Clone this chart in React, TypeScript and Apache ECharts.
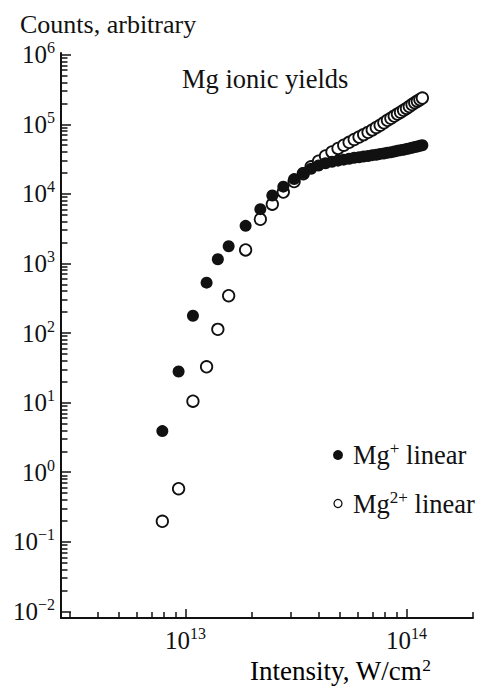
import React, { useEffect, useRef } from "react";
import * as echarts from "echarts";

// Laser intensity, W/cm^2 (shared by both series)
const intensity = [
  7.85e12, 9.3e12, 1.08e13, 1.245e13, 1.4e13, 1.567e13, 1.87e13, 2.18e13, 2.47e13, 2.77e13,
  3.1e13, 3.41e13, 3.7e13, 4.0e13, 4.3e13, 4.6e13, 4.9e13, 5.2e13, 5.5e13, 5.8e13,
  6.1e13, 6.4e13, 6.7e13, 7.0e13, 7.3e13, 7.6e13, 7.9e13, 8.2e13, 8.5e13, 8.8e13,
  9.1e13, 9.4e13, 9.7e13, 1.0e14, 1.03e14, 1.06e14, 1.09e14, 1.12e14, 1.15e14, 1.18e14,
];
// Mg+ counts
const mgPlus = [
  3.9, 28, 177, 530, 1150, 1770, 3470, 6030, 9460, 12700,
  16300, 20000, 23000, 25500, 27500, 29000, 30000, 31000, 32000, 33000,
  33500, 34500, 35000, 36000, 36500, 37500, 38000, 39000, 39500, 40500,
  41500, 42500, 43000, 44000, 45000, 46000, 47000, 48000, 49000, 50000,
];
// Mg2+ counts
const mg2Plus = [
  0.197, 0.58, 10.5, 32.7, 113, 344, 1565, 4320, 7110, 10600,
  15000, 19500, 24500, 29500, 35000, 40000, 45000, 50000, 55000, 60500,
  65500, 71000, 76500, 83000, 90000, 97000, 105000, 114000, 122000, 131000,
  140000, 149000, 159000, 169000, 180000, 192000, 204000, 215000, 226000, 238000,
];

const xMajorTicks = [1e13, 1e14];
const xMinorTicks = [
  3e12, 4e12, 5e12, 6e12, 7e12, 8e12, 9e12,
  2e13, 3e13, 4e13, 5e13, 6e13, 7e13, 8e13, 9e13, 2e14,
];
const yMajorTicks = [1e-2, 1e-1, 1e0, 1e1, 1e2, 1e3, 1e4, 1e5, 1e6];
const minorMultipliers = [2, 3, 4, 5, 6, 7, 8, 9];
const yMinorTicks: number[] = [];
yMajorTicks.slice(0, -1).forEach((d) => minorMultipliers.forEach((m) => yMinorTicks.push(+(d * m).toPrecision(3))));

const FONT = '"Liberation Serif", "Times New Roman", serif';
const INK = "#111";

const richTick = {
  b: { fontSize: 25, fontFamily: FONT, color: INK, lineHeight: 30 },
  s: { fontSize: 16, fontFamily: FONT, color: INK, lineHeight: 16, verticalAlign: "top" as const },
};
const richLegend = {
  b: { fontSize: 26.5, fontFamily: FONT, color: INK, lineHeight: 30 },
  s: { fontSize: 17, fontFamily: FONT, color: INK, lineHeight: 16, verticalAlign: "top" as const },
  g: { width: 6 },
};
const richTitle = {
  b: { fontSize: 27, fontFamily: FONT, color: INK, lineHeight: 30 },
  s: { fontSize: 17.5, fontFamily: FONT, color: INK, lineHeight: 16, verticalAlign: "top" as const },
};

const powLabel = (v: number) => {
  const e = Math.round(Math.log10(v));
  const es = e < 0 ? "\u2212" + Math.abs(e) : String(e);
  return `{b|10}{s|${es}}`;
};

export default function App() {
  const ref = useRef<HTMLDivElement>(null);
  useEffect(() => {
    if (!ref.current) return;
    const chart = echarts.init(ref.current, undefined, { renderer: "svg" });
    const xMin = 2.73e12;
    const xMax = 2.0005e14;
    const yMin = 8.04e-3;
    const yMax = 1.057e6;
    const axisLine = { show: true, onZero: false, lineStyle: { color: INK, width: 2 } };
    chart.setOption({
      animation: false,
      backgroundColor: "#fff",
      grid: { left: 61, right: 11, top: 53, bottom: 72, containLabel: false },
      xAxis: [
        {
          type: "log",
          min: xMin,
          max: xMax,
          position: "bottom",
          axisLine,
          splitLine: { show: false },
          minorTick: { show: false },
          axisTick: { show: true, inside: true, length: 9, customValues: xMajorTicks, lineStyle: { color: INK, width: 1.5 } },
          axisLabel: { show: true, customValues: xMajorTicks, margin: 7, formatter: powLabel, rich: richTick },
        },
        {
          type: "log",
          min: xMin,
          max: xMax,
          position: "bottom",
          offset: 0,
          axisLine: { show: false, onZero: false },
          splitLine: { show: false },
          axisTick: { show: true, inside: true, length: 6, customValues: xMinorTicks, lineStyle: { color: INK, width: 1.5 } },
          axisLabel: { show: false },
        },
      ],
      yAxis: [
        {
          type: "log",
          min: yMin,
          max: yMax,
          position: "left",
          axisLine,
          splitLine: { show: false },
          minorTick: { show: false },
          axisTick: { show: true, inside: true, length: 10, customValues: yMajorTicks, lineStyle: { color: INK, width: 1.5 } },
          axisLabel: { show: true, customValues: yMajorTicks, margin: 6, formatter: powLabel, rich: richTick },
        },
        {
          type: "log",
          min: yMin,
          max: yMax,
          position: "left",
          offset: 0,
          axisLine: { show: false, onZero: false },
          splitLine: { show: false },
          axisTick: { show: true, inside: true, length: 6.5, customValues: yMinorTicks, lineStyle: { color: INK, width: 1.5 } },
          axisLabel: { show: false },
        },
      ],
      legend: {
        orient: "vertical",
        left: 333,
        top: 440,
        padding: 0,
        itemWidth: 8,
        itemHeight: 8,
        itemGap: 20,
        icon: "circle",
        data: [
          { name: "Mg+ linear", icon: "circle", itemStyle: { color: INK, borderColor: INK, borderWidth: 2 } },
          { name: "Mg2+ linear", icon: "circle", itemStyle: { color: "#fff", borderColor: INK, borderWidth: 1.3 } },
        ],
        formatter: (name: string) =>
          name === "Mg+ linear" ? "{g|}{b|Mg}{s|+}{b| linear}" : "{g|}{b|Mg}{s|2+}{b| linear}",
        textStyle: { rich: richLegend },
      },
      graphic: [
        {
          type: "text",
          x: 20,
          y: 24,
          style: { text: "Counts, arbitrary", fontSize: 26, fontFamily: FONT, fill: INK, align: "left", verticalAlign: "middle" },
        },
        {
          type: "text",
          x: 182,
          y: 79,
          style: { text: "Mg ionic yields", fontSize: 26.5, fontFamily: FONT, fill: INK, align: "left", verticalAlign: "middle" },
        },
        {
          type: "text",
          x: 250,
          y: 671,
          style: { text: "{b|Intensity, W/cm}{s|2}", rich: richTitle, align: "left", verticalAlign: "middle" },
        },
      ],
      series: [
        {
          name: "Mg2+ linear",
          type: "scatter",
          xAxisIndex: 0,
          yAxisIndex: 0,
          symbol: "circle",
          symbolSize: 11.5,
          itemStyle: { color: "#fff", borderColor: INK, borderWidth: 1.8, opacity: 1 },
          data: intensity.map((x, i) => [x, mg2Plus[i]]),
        },
        {
          name: "Mg+ linear",
          type: "scatter",
          xAxisIndex: 0,
          yAxisIndex: 0,
          symbol: "circle",
          symbolSize: 12,
          itemStyle: { color: INK, opacity: 1 },
          data: intensity.map((x, i) => [x, mgPlus[i]]),
        },
      ],
    });
    return () => chart.dispose();
  }, []);
  return <div ref={ref} style={{ position: "fixed", left: 0, top: 0, width: 484, height: 690 }} />;
}
